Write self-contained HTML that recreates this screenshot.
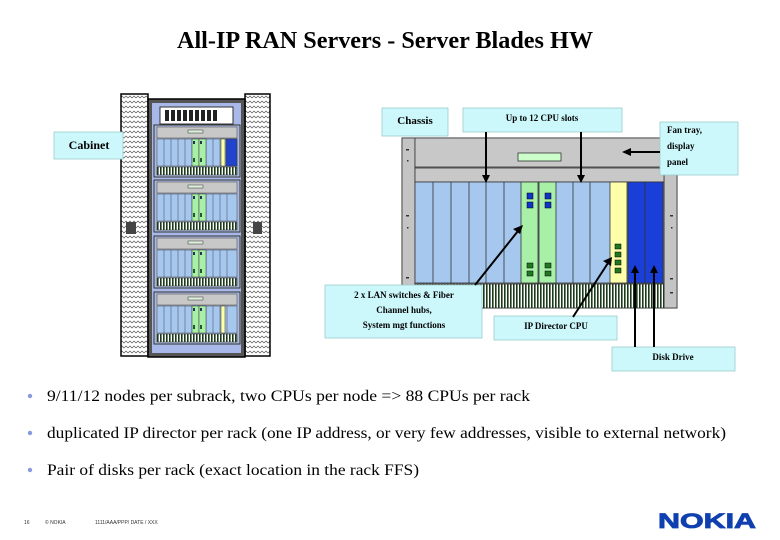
<!DOCTYPE html>
<html><head><meta charset="utf-8"><style>
html,body{margin:0;padding:0;background:#fff;}
svg{display:block;}
text{font-family:"Liberation Serif",serif;}
text.sans{font-family:"Liberation Sans",sans-serif;}
</style></head><body>
<svg width="780" height="540" viewBox="0 0 780 540" xmlns="http://www.w3.org/2000/svg">
<defs>
<pattern id="wave" width="8" height="5" patternUnits="userSpaceOnUse">
<rect width="8" height="5" fill="#fff"/>
<path d="M0 3 L2 1 L4 3 L6 1 L8 3" stroke="#555" stroke-width="0.7" fill="none"/>
</pattern>
<pattern id="vent" width="3" height="10" patternUnits="userSpaceOnUse">
<rect width="3" height="10" fill="#fff"/><rect width="1.6" height="10" fill="#1a3a1a"/>
</pattern>
<g id="sub">
<rect x="0" y="0" width="86" height="52" fill="#a8b8e0" stroke="#333" stroke-width="1"/>
<rect x="3" y="2" width="80" height="11" fill="#c8c8c8" stroke="#555" stroke-width="0.6"/>
<rect x="34" y="5" width="15" height="3" fill="#ddf0dd" stroke="#333" stroke-width="0.5"/>
<rect x="3" y="14" width="80" height="27" fill="#a6c8ee" stroke="#444" stroke-width="0.5"/>
<path d="M10 14v27M17 14v27M24 14v27M31 14v27M38 14v27M52 14v27M59 14v27M66 14v27M73 14v27" stroke="#445" stroke-width="0.5"/>
<rect x="38" y="14" width="7" height="27" fill="#a8f0a8" stroke="#333" stroke-width="0.5"/>
<rect x="45" y="14" width="7" height="27" fill="#a8f0a8" stroke="#333" stroke-width="0.5"/>
<rect x="39" y="16" width="2" height="3" fill="#235"/><rect x="46" y="16" width="2" height="3" fill="#235"/>
<rect x="39" y="33" width="2" height="4" fill="#253"/><rect x="46" y="33" width="2" height="4" fill="#253"/>
<rect x="3" y="42" width="80" height="8" fill="url(#vent)" stroke="#333" stroke-width="0.5"/>
</g>
</defs>

<text x="385" y="48" text-anchor="middle" font-size="24" font-weight="bold" textLength="416" lengthAdjust="spacingAndGlyphs">All-IP RAN Servers - Server Blades HW</text>

<!-- Cabinet -->
<rect x="121" y="94" width="27" height="262" fill="url(#wave)" stroke="#000" stroke-width="1.5"/>
<rect x="245" y="94" width="25" height="262" fill="url(#wave)" stroke="#000" stroke-width="1.5"/>
<rect x="126" y="222" width="10" height="12" fill="#444"/>
<rect x="253" y="222" width="9" height="12" fill="#444"/>
<rect x="148" y="99" width="97" height="258" fill="#555" stroke="#000" stroke-width="1.5"/>
<rect x="152" y="103" width="89" height="250" fill="#a8b8e8"/>
<rect x="160" y="107" width="73" height="17" fill="#fff" stroke="#333"/>
<g fill="#222"><rect x="165" y="110" width="4" height="11"/><rect x="171" y="110" width="4" height="11"/><rect x="177" y="110" width="4" height="11"/><rect x="183" y="110" width="4" height="11"/><rect x="189" y="110" width="4" height="11"/><rect x="195" y="110" width="4" height="11"/><rect x="201" y="110" width="4" height="11"/><rect x="207" y="110" width="4" height="11"/><rect x="213" y="110" width="4" height="11"/></g>
<use href="#sub" x="154" y="125"/>
<rect x="221" y="139" width="4" height="27" fill="#ffffa8" stroke="#333" stroke-width="0.5"/>
<rect x="226" y="139" width="11" height="27" fill="#2244cc" stroke="#333" stroke-width="0.5"/>
<use href="#sub" x="154" y="180"/>
<use href="#sub" x="154" y="236"/>
<use href="#sub" x="154" y="292"/>
<rect x="221" y="306" width="4" height="27" fill="#ffffa8" stroke="#333" stroke-width="0.5"/>

<rect x="54" y="132" width="69" height="27" fill="#ccf8fc" stroke="#9cc" stroke-width="0.8"/>
<text x="89" y="149" text-anchor="middle" font-size="12" font-weight="bold">Cabinet</text>

<!-- Chassis -->
<rect x="402" y="138" width="275" height="170" fill="#c4c4c4" stroke="#333" stroke-width="1"/>
<rect x="402" y="138" width="13" height="170" fill="#c4c4c4" stroke="#333" stroke-width="0.8"/>
<rect x="664" y="138" width="13" height="170" fill="#c4c4c4" stroke="#333" stroke-width="0.8"/>
<g fill="#333"><rect x="406" y="149" width="3" height="1.5"/><rect x="407" y="160" width="1.5" height="1.5"/><rect x="406" y="215" width="3" height="1.5"/><rect x="407" y="227" width="1.5" height="1.5"/><rect x="406" y="277" width="3" height="1.5"/><rect x="670" y="215" width="3" height="1.5"/><rect x="671" y="227" width="1.5" height="1.5"/><rect x="670" y="278" width="3" height="1.5"/><rect x="670" y="292" width="3" height="1.5"/></g>
<rect x="415" y="138" width="249" height="29" fill="#c8c8c8" stroke="#333" stroke-width="0.8"/>
<rect x="518" y="153" width="43" height="8" fill="#ccffcc" stroke="#333" stroke-width="0.8"/>
<rect x="415" y="168" width="249" height="14" fill="#c8c8c8" stroke="#333" stroke-width="0.8"/>
<rect x="415" y="182" width="249" height="101" fill="#a6c8ee" stroke="#333" stroke-width="0.8"/>
<path d="M433 182v101M451 182v101M469 182v101M486 182v101M504 182v101M573 182v101M590 182v101" stroke="#333" stroke-width="0.8"/>
<rect x="521" y="182" width="17" height="101" fill="#a8f0a8" stroke="#333" stroke-width="0.8"/>
<rect x="539" y="182" width="17" height="101" fill="#a8f0a8" stroke="#333" stroke-width="0.8"/>
<g fill="#1133cc" stroke="#000" stroke-width="0.5"><rect x="527" y="193" width="6" height="6"/><rect x="527" y="202" width="6" height="6"/><rect x="545" y="193" width="6" height="6"/><rect x="545" y="202" width="6" height="6"/></g>
<g fill="#227722" stroke="#000" stroke-width="0.5"><rect x="527" y="263" width="6" height="5"/><rect x="527" y="271" width="6" height="5"/><rect x="545" y="263" width="6" height="5"/><rect x="545" y="271" width="6" height="5"/></g>
<rect x="610" y="182" width="17" height="101" fill="#ffffaa" stroke="#333" stroke-width="0.8"/>
<g fill="#227722" stroke="#000" stroke-width="0.5"><rect x="615" y="244" width="6" height="5"/><rect x="615" y="252" width="6" height="5"/><rect x="615" y="260" width="6" height="5"/><rect x="615" y="268" width="6" height="5"/></g>
<rect x="628" y="182" width="17" height="101" fill="#1a3fd8" stroke="#333" stroke-width="0.8"/>
<rect x="645" y="182" width="18" height="101" fill="#1a3fd8" stroke="#333" stroke-width="0.8"/>
<rect x="415" y="284" width="249" height="24" fill="url(#vent)" stroke="#333" stroke-width="0.8"/>

<!-- Labels -->
<rect x="382" y="108" width="66" height="28" fill="#ccf8fc" stroke="#9cc" stroke-width="0.8"/>
<text x="415" y="124" text-anchor="middle" font-size="11" font-weight="bold">Chassis</text>
<rect x="463" y="108" width="159" height="24" fill="#ccf8fc" stroke="#9cc" stroke-width="0.8"/>
<text x="542" y="121" text-anchor="middle" font-size="9" font-weight="bold">Up to 12 CPU slots</text>
<rect x="660" y="122" width="78" height="53" fill="#ccf8fc" stroke="#9cc" stroke-width="0.8"/>
<text font-size="9" font-weight="bold"><tspan x="667" y="133">Fan tray,</tspan><tspan x="667" y="149">display</tspan><tspan x="667" y="165">panel</tspan></text>
<rect x="325" y="285" width="157" height="53" fill="#ccf8fc" stroke="#9cc" stroke-width="0.8"/>
<text font-size="9" font-weight="bold" text-anchor="middle"><tspan x="404" y="298">2 x LAN switches &amp; Fiber</tspan><tspan x="404" y="313">Channel hubs,</tspan><tspan x="404" y="328">System mgt functions</tspan></text>
<rect x="494" y="316" width="123" height="24" fill="#ccf8fc" stroke="#9cc" stroke-width="0.8"/>
<text x="556" y="329" text-anchor="middle" font-size="9" font-weight="bold">IP Director CPU</text>
<rect x="612" y="347" width="123" height="24" fill="#ccf8fc" stroke="#9cc" stroke-width="0.8"/>
<text x="673" y="360" text-anchor="middle" font-size="9" font-weight="bold">Disk Drive</text>

<!-- Arrows -->
<g stroke="#000" stroke-width="2" fill="#000">
<line x1="486" y1="132" x2="486" y2="176"/><polygon points="482,175 490,175 486,183" stroke="none"/>
<line x1="581" y1="132" x2="581" y2="176"/><polygon points="577,175 585,175 581,183" stroke="none"/>
<line x1="660" y1="152" x2="630" y2="152"/><polygon points="631,148 631,156 622,152" stroke="none"/>
<line x1="475" y1="285" x2="518" y2="231"/><polygon points="513,229 520,234 523,225" stroke="none"/>
<line x1="573" y1="317" x2="608" y2="263"/><polygon points="603,261 611,266 612,257" stroke="none"/>
<line x1="635" y1="347" x2="635" y2="272"/><polygon points="631,273 639,273 635,265" stroke="none"/>
<line x1="654" y1="347" x2="654" y2="272"/><polygon points="650,273 658,273 654,265" stroke="none"/>
</g>

<!-- Bullets -->
<g font-size="16" fill="#000">
<circle cx="30" cy="396" r="2.2" fill="#8899dd"/>
<text x="47" y="401" textLength="483" lengthAdjust="spacingAndGlyphs">9/11/12 nodes per subrack, two CPUs per node =&gt; 88 CPUs per rack</text>
<circle cx="30" cy="433" r="2.2" fill="#8899dd"/>
<text x="47" y="438" textLength="679" lengthAdjust="spacingAndGlyphs">duplicated IP director per rack (one IP address, or very few addresses, visible to external network)</text>
<circle cx="30" cy="470" r="2.2" fill="#8899dd"/>
<text x="47" y="475" textLength="372" lengthAdjust="spacingAndGlyphs">Pair of disks per rack (exact location in the rack FFS)</text>
</g>
<text class="sans" x="24" y="524" font-size="5" fill="#333">16</text>
<text class="sans" x="45" y="524" font-size="5" fill="#333">© NOKIA</text>
<text class="sans" x="95" y="524" font-size="5" fill="#333">1111/AAA/PPP/ DATE / XXX</text>
<text class="sans" x="707" y="528" text-anchor="middle" font-size="21" font-weight="bold" fill="#1040b0" stroke="#1040b0" stroke-width="0.8" textLength="98" lengthAdjust="spacingAndGlyphs">NOKIA</text>
</svg>
</body></html>
